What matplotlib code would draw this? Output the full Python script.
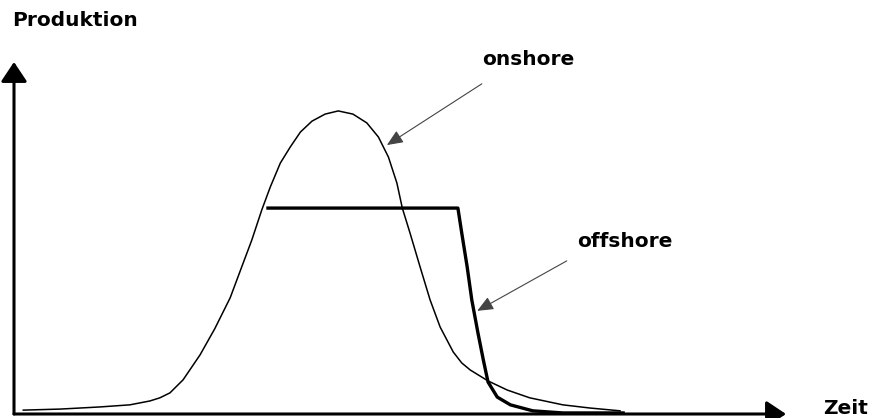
import matplotlib.pyplot as plt

# onshore curve (time, production)
on_t = [1.2, 6.0, 11.1, 15.0, 17.6, 18.9, 20.2, 21.9, 24.1, 26.0, 28.0, 29.5, 30.8,
        32.1, 33.2, 34.5, 35.8, 37.1, 38.6, 40.3, 42.0, 43.9, 45.7, 47.2, 48.5,
        49.6, 50.3, 51.3, 52.6, 53.9, 55.2, 56.9, 58.0, 59.1, 61.4, 63.9, 66.8,
        71.1, 74.6, 78.5]
on_p = [1.1, 1.4, 2.0, 2.6, 3.7, 4.6, 6.0, 9.7, 16.8, 24.2, 33.0, 41.8, 49.4,
        58.0, 64.5, 71.3, 75.9, 80.1, 83.2, 85.2, 86.1, 85.2, 82.7, 78.7, 73.0,
        65.6, 58.5, 51.4, 41.8, 32.4, 24.7, 17.6, 14.5, 12.5, 9.4, 6.8, 4.6,
        2.6, 1.7, 0.9]

# offshore curve
off_t = [32.9, 57.5, 58.0, 58.7, 59.3, 60.1, 60.8, 61.4, 62.6, 64.3, 67.2, 71.1, 78.9]
off_p = [58.5, 58.5, 51.4, 41.8, 32.4, 23.0, 15.3, 9.1, 4.8, 2.6, 0.9, 0.3, 0.3]

font = dict(family='DejaVu Sans', weight='bold', size=14.5)

fig = plt.figure(figsize=(8.72, 4.18), dpi=100)
ax = fig.add_axes([14 / 872, 4 / 418, 772 / 872, 352 / 418])
ax.set_xlim(0, 100)
ax.set_ylim(0, 100)
ax.axis('off')

ax.plot(on_t, on_p, color='black', lw=1.1, solid_joinstyle='round')
ax.plot(off_t, off_p, color='black', lw=2.4, solid_joinstyle='round')

# axes with arrow heads
axis_arrow = dict(arrowstyle='-|>,head_length=0.6,head_width=0.4', color='black',
                  lw=2.2, mutation_scale=20, shrinkA=0, shrinkB=0)
ax.annotate('', xy=(0, 1), xytext=(0, 0), xycoords='axes fraction',
            arrowprops=axis_arrow, annotation_clip=False)
ax.annotate('', xy=(1, 0), xytext=(0, 0), xycoords='axes fraction',
            arrowprops=axis_arrow, annotation_clip=False)

label_arrow = dict(arrowstyle='-|>,head_length=0.7,head_width=0.3', color='#444444',
                   lw=0.8, mutation_scale=14, shrinkA=0, shrinkB=0)
ax.annotate('', xy=(48.3, 76.4), xytext=(60.6, 93.8), arrowprops=label_arrow)
ax.annotate('', xy=(60.0, 29.3), xytext=(71.6, 43.5), arrowprops=label_arrow)
ax.text(66.6, 100.6, 'onshore', ha='center', va='center', clip_on=False, **font)
ax.text(79.1, 49.1, 'offshore', ha='center', va='center', clip_on=False, **font)

fig.text(12 / 872, 1 - 21 / 418, 'Produktion', ha='left', va='center', **font)
fig.text(868 / 872, 1 - 409 / 418, 'Zeit', ha='right', va='center', **font)

fig.savefig('out.png', dpi=100)
